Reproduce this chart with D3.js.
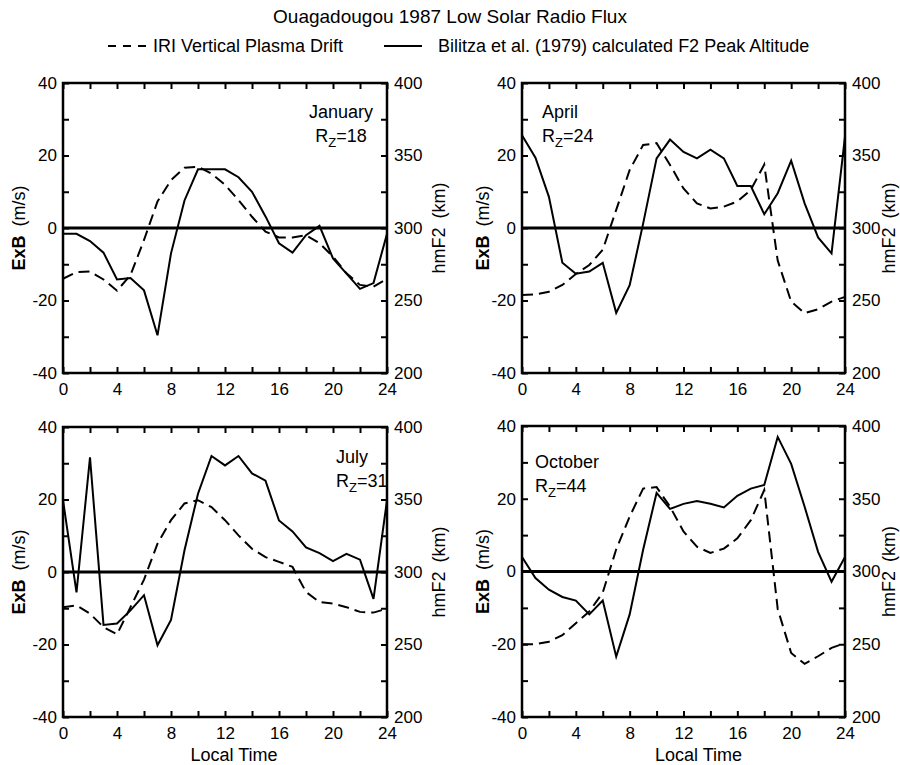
<!DOCTYPE html>
<html lang="en">
<head>
<meta charset="UTF-8">
<title>Ouagadougou 1987</title>
<script src="https://cdn.jsdelivr.net/npm/d3@7"></script>
<style>
  body { margin: 0; background: #fff; }
  svg { font-family: "Liberation Sans", Arial, sans-serif; }
</style>
</head>
<body>
<script>
  // local time (hours) shared by every panel
  const hours = [0,1,2,3,4,5,6,7,8,9,10,11,12,13,14,15,16,17,18,19,20,21,22,23,24];

  const months = ["January", "April", "July", "October"];
  const rzValues = [18, 24, 31, 44];

  // IRI vertical plasma drift (m/s), dashed
  const driftJan = [-14, -12.2, -12, -14.2, -17.3, -13, -3.3, 7.3, 13.2, 16.6, 16.9, 15, 11.9, 7.7, 3.1, -1, -2.6, -2.6, -2, -4.2, -7.9, -12.5, -15.7, -16.2, -14];
  const driftApr = [-18.5, -18.3, -17.6, -15.7, -12.7, -10.2, -6, 5, 16, 22.9, 23.4, 17.4, 10.9, 6.8, 5.4, 5.9, 7.3, 10.5, 17.5, -9, -20.3, -23.5, -22.4, -20.3, -19];
  const driftJul = [-9.7, -9.2, -11.5, -15.2, -17.2, -9.7, -2.1, 7.8, 14.3, 18.9, 19.8, 17.9, 14.3, 10.1, 6.4, 4.1, 2.8, 1.4, -5.5, -8.3, -8.7, -9.7, -11, -11.2, -10.1];
  const driftOct = [-20, -20, -19.3, -17.5, -14.2, -11, -5.8, 6.1, 15.1, 22.8, 23.2, 17.8, 11, 6.8, 5.1, 6.3, 9.1, 14.1, 22.4, -10.3, -22.4, -25.4, -23.3, -21, -19.7];

  // Bilitza et al. (1979) calculated F2 peak altitude (km), solid
  const hmf2Jan = [296, 296, 291, 283, 264.5, 265.5, 257, 226, 282.5, 319, 340.5, 340.5, 340.5, 335, 325, 308, 289.5, 283, 295, 301.5, 279, 268.5, 258, 262, 296];
  const hmf2Apr = [364, 348.5, 321.5, 276, 268.5, 270, 276, 241.5, 260.5, 303, 348, 361, 352.5, 348, 354, 348, 329, 329, 309.5, 324, 346.5, 317, 293.5, 282.5, 363];
  const hmf2Jul = [349.5, 286, 379, 263.5, 264.5, 273.5, 284, 249.5, 267, 315, 354, 380, 373.5, 380, 368, 363, 335.5, 328, 317, 313, 307.5, 312.5, 308.5, 281.5, 349.5];
  const hmf2Oct = [310, 295.5, 287.5, 282.5, 280, 270.5, 280, 241.5, 270.5, 315, 354, 343, 346.5, 348.5, 346.5, 344, 352, 357, 359.5, 392.5, 374, 344.5, 313.5, 293, 310];

  const drifts = [driftJan, driftApr, driftJul, driftOct];
  const hmf2s = [hmf2Jan, hmf2Apr, hmf2Jul, hmf2Oct];

  // axis ticks
  const timeTicks = [0,2,4,6,8,10,12,14,16,18,20,22,24];
  const exbTicks = [-40,-30,-20,-10,0,10,20,30,40];
  const hmTicks = [200,225,250,275,300,325,350,375,400];

  const W = 900, H = 765;

  // panel boxes
  const panels = [
    {x0: 63,  x1: 387, y0: 83,  y1: 373, lx: 25,  rx: 445},
    {x0: 522, x1: 845, y0: 83,  y1: 373, lx: 489, rx: 895},
    {x0: 63,  x1: 387, y0: 427, y1: 717, lx: 25,  rx: 445},
    {x0: 522, x1: 845, y0: 426, y1: 717, lx: 489, rx: 895}
  ];
  // month label placement: [x, anchor, baseline1, baseline2]
  const labelPos = [
    [341, "middle", 118, 142],
    [542, "start", 118, 142],
    [336, "start", 463, 487],
    [535, "start", 468, 492]
  ];

  const svg = d3.select("body").append("svg")
    .attr("width", W).attr("height", H);

  svg.append("text")
    .attr("x", 450).attr("y", 23)
    .attr("text-anchor", "middle")
    .attr("font-size", 19)
    .text("Ouagadougou 1987 Low Solar Radio Flux");

  // legend
  const leg = svg.append("g").attr("font-size", 18);
  leg.append("line").attr("x1", 108).attr("x2", 146).attr("y1", 46).attr("y2", 46)
    .attr("stroke", "#000").attr("stroke-width", 2).attr("stroke-dasharray", "8,7");
  leg.append("text").attr("x", 153).attr("y", 52).text("IRI Vertical Plasma Drift");
  leg.append("line").attr("x1", 384).attr("x2", 422).attr("y1", 46).attr("y2", 46)
    .attr("stroke", "#000").attr("stroke-width", 2);
  leg.append("text").attr("x", 438).attr("y", 52).text("Bilitza et al. (1979) calculated F2 Peak Altitude");

  panels.forEach((p, i) => {
    const g = svg.append("g");
    const x = d3.scaleLinear().domain([0, 24]).range([p.x0, p.x1]);
    const yL = d3.scaleLinear().domain([-40, 40]).range([p.y1, p.y0]);
    const yR = d3.scaleLinear().domain([200, 400]).range([p.y1, p.y0]);

    const styleAxis = sel => {
      sel.select(".domain").remove();
      sel.selectAll("line").attr("stroke-width", 2);
      sel.attr("font-size", 17).attr("font-family", null);
    };

    g.append("g").attr("transform", `translate(${p.x0},0)`)
      .call(d3.axisLeft(yL).tickValues(exbTicks).tickSize(-6).tickPadding(6)
        .tickFormat(d => d % 20 === 0 ? d : ""))
      .call(styleAxis);
    g.append("g").attr("transform", `translate(${p.x1},0)`)
      .call(d3.axisRight(yR).tickValues(hmTicks).tickSize(-6).tickPadding(7)
        .tickFormat(d => d % 50 === 0 ? d : ""))
      .call(styleAxis);
    g.append("g").attr("transform", `translate(0,${p.y1})`)
      .call(d3.axisBottom(x).tickValues(timeTicks).tickSize(-6).tickPadding(10)
        .tickFormat(d => d % 4 === 0 ? d : ""))
      .call(styleAxis);
    g.append("g").attr("transform", `translate(0,${p.y0})`)
      .call(d3.axisTop(x).tickValues(timeTicks).tickSize(-6).tickFormat(""))
      .call(styleAxis);

    // zero line
    g.append("line")
      .attr("x1", x(0)).attr("x2", x(24)).attr("y1", yL(0)).attr("y2", yL(0))
      .attr("stroke", "#000").attr("stroke-width", 3);

    // dashed drift
    g.append("path")
      .datum(drifts[i])
      .attr("fill", "none").attr("stroke", "#000").attr("stroke-width", 2)
      .attr("stroke-dasharray", "11,6")
      .attr("d", d3.line().x((d, j) => x(hours[j])).y(d => yL(d)));

    // solid hmF2
    g.append("path")
      .datum(hmf2s[i])
      .attr("fill", "none").attr("stroke", "#000").attr("stroke-width", 2)
      .attr("stroke-linejoin", "miter")
      .attr("d", d3.line().x((d, j) => x(hours[j])).y(d => yR(d)));

    // frame
    g.append("rect")
      .attr("x", p.x0).attr("y", p.y0)
      .attr("width", p.x1 - p.x0).attr("height", p.y1 - p.y0)
      .attr("fill", "none").attr("stroke", "#000").attr("stroke-width", 2.5);

    // axis titles
    const cy = yL(0);
    const lt = g.append("text")
      .attr("transform", `translate(${p.lx},${cy}) rotate(-90)`)
      .attr("text-anchor", "middle").attr("font-size", 18);
    lt.append("tspan").attr("font-weight", "bold").text("ExB");
    lt.append("tspan").attr("dx", 9).text("(m/s)");

    const rt = g.append("text")
      .attr("transform", `translate(${p.rx},${cy}) rotate(-90)`)
      .attr("text-anchor", "middle").attr("font-size", 18);
    rt.append("tspan").text("hmF2");
    rt.append("tspan").attr("dx", 9).text("(km)");

    // month and sunspot number
    const lp = labelPos[i];
    g.append("text").attr("x", lp[0]).attr("y", lp[2])
      .attr("text-anchor", lp[1]).attr("font-size", 18)
      .text(months[i]);
    const rz = g.append("text").attr("x", lp[0]).attr("y", lp[3])
      .attr("text-anchor", lp[1]).attr("font-size", 18);
    rz.append("tspan").text("R");
    rz.append("tspan").attr("font-size", 13).attr("dy", 5).text("Z");
    rz.append("tspan").attr("dy", -5).text("=" + rzValues[i]);

    if (i >= 2) {
      g.append("text")
        .attr("x", (p.x0 + p.x1) / 2 + (i === 2 ? 9 : 15)).attr("y", 761)
        .attr("text-anchor", "middle").attr("font-size", 18)
        .text("Local Time");
    }
  });
</script>
</body>
</html>
